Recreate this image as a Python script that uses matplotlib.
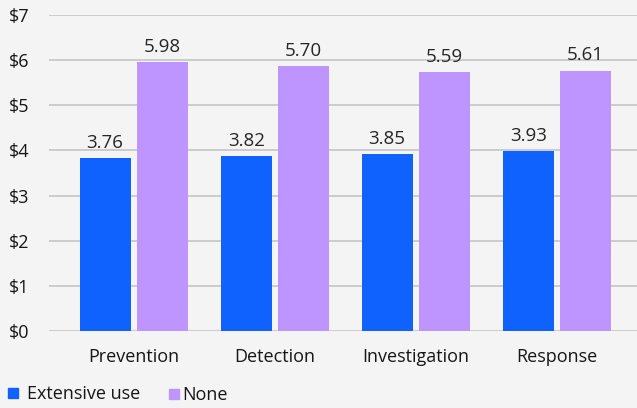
import matplotlib
matplotlib.use("Agg")
import matplotlib.pyplot as plt
import numpy as np
from matplotlib.lines import Line2D

categories = ["Prevention", "Detection", "Investigation", "Response"]
series_names = ["Extensive use", "None"]
# bar heights as drawn in the reference
extensive_heights = [3.83, 3.88, 3.92, 3.99]
none_heights = [5.96, 5.86, 5.74, 5.77]
# value labels printed above the bars
extensive_labels = ["3.76", "3.82", "3.85", "3.93"]
none_labels = ["5.98", "5.70", "5.59", "5.61"]
yticks = [0, 1, 2, 3, 4, 5, 6, 7]
ytick_labels = ["$0", "$1", "$2", "$3", "$4", "$5", "$6", "$7"]

BLUE = "#0F62FE"
PURPLE = "#BE95FF"
BG = "#F4F4F4"
GRID = "#C9CBCD"
TEXT = "#161616"

plt.rcParams["font.family"] = ["Open Sans", "DejaVu Sans"]

W, H = 637, 408
fig = plt.figure(figsize=(W / 100, H / 100), dpi=100, facecolor=BG)
ax = fig.add_axes([49 / W, 1 - 331 / H, (W - 49) / W, (331 - 15) / H], facecolor=BG)

x = np.arange(len(categories))
bw = 0.362
off = 0.202
b1 = ax.bar(x - off, extensive_heights, bw, color=BLUE, zorder=3)
b2 = ax.bar(x + off, none_heights, bw, color=PURPLE, zorder=3)

for bars, labels in ((b1, extensive_labels), (b2, none_labels)):
    for rect, lab in zip(bars, labels):
        ax.annotate(lab, (rect.get_x() + rect.get_width() / 2, rect.get_height()),
                    xytext=(0, 4.5), textcoords="offset points", ha="center", va="bottom",
                    fontsize=13.5, color="#262626")

ax.set_xlim(-0.6, 3.57)
ax.set_ylim(0, 7)
ax.set_yticks(yticks)
ax.set_yticklabels(ytick_labels)
ax.set_xticks(x)
ax.set_xticklabels(categories)
ax.tick_params(axis="both", length=0, labelsize=13, colors=TEXT)
ax.tick_params(axis="x", pad=12)
ax.tick_params(axis="y", pad=40 * 0.72)
for lab in ax.get_yticklabels():
    lab.set_horizontalalignment("left")
ax.grid(axis="y", color=GRID, linewidth=1.4, zorder=0)
for s in ax.spines.values():
    s.set_visible(False)

h_ext = Line2D([], [], marker="s", linestyle="none", markersize=7.5, color=BLUE)
h_none = Line2D([], [], marker="s", linestyle="none", markersize=7.5, color=PURPLE)
leg1 = fig.legend([h_ext], [series_names[0]], loc="center left",
                  bbox_to_anchor=(0.0, 1 - 394 / H), frameon=False, fontsize=13,
                  handlelength=0.8, handletextpad=0.4, borderaxespad=0, borderpad=0.3,
                  labelcolor=TEXT)
leg2 = fig.legend([h_none], [series_names[1]], loc="center left",
                  bbox_to_anchor=(161 / W, 1 - 395 / H), frameon=False, fontsize=13,
                  handlelength=0.8, handletextpad=0.05, borderaxespad=0, borderpad=0.3,
                  labelcolor=TEXT)

fig.savefig("out.png", dpi=100, facecolor=BG)
